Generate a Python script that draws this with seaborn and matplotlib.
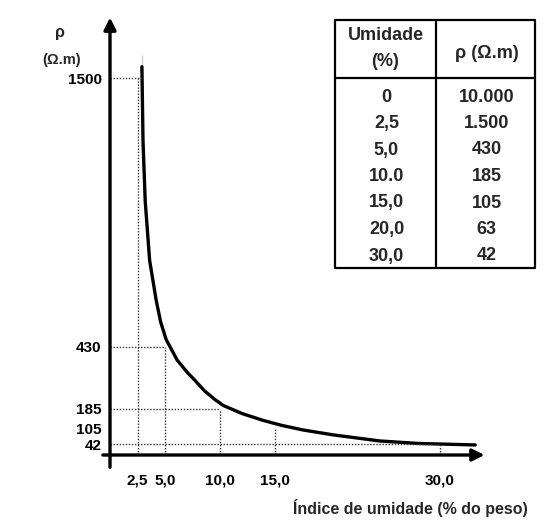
import numpy as np
import pandas as pd
import matplotlib
matplotlib.use("Agg")
import matplotlib.pyplot as plt
import seaborn as sns

# table values (from the printed table)
umidade = [0, 2.5, 5.0, 10.0, 15.0, 20.0, 30.0]
umidade_txt = ["0", "2,5", "5,0", "10.0", "15,0", "20,0", "30,0"]
rho = [10000, 1500, 430, 185, 105, 63, 42]
rho_txt = ["10.000", "1.500", "430", "185", "105", "63", "42"]

# curve as drawn in the picture
curve_x = [2.9, 2.9, 3.0, 3.2, 3.6, 4.2, 4.6, 5.1, 6.1, 7.0, 7.7, 8.6, 9.5, 10.3, 12.0, 13.9, 15.6, 17.5, 20.3, 24.5, 28.0, 33.2]
curve_y = [1590, 1500, 1250, 1010, 775, 615, 530, 460, 378, 330, 298, 255, 222, 197, 165, 138, 118, 100, 80, 56, 46, 40]

# guide lines on the chart
guide_x = [2.5, 5.0, 10.0, 15.0, 30.0]
guide_x_lbl = ["2,5", "5,0", "10,0", "15,0", "30,0"]
guide_y = [1500, 430, 185, 105, 42]
curve_at_guide = [1500, 430, 185, 105, 42]      # rho where vertical dotted line stops
hline_end = [2.9, 5.0, 10.0, None, 30.0]        # x where horizontal dotted line stops

sns.set_theme(style="white")
plt.rcParams['font.family'] = ['Liberation Sans', 'DejaVu Sans']

fig = plt.figure(figsize=(5.43, 5.30), dpi=100)
ax = fig.add_axes([0, 0, 1, 1])
ax.set_xlim(-10, 39.36)
ax.set_ylim(-298.4, 1810.6)
ax.patch.set_alpha(0)

df = pd.DataFrame({"x": curve_x, "y": curve_y})
sns.lineplot(data=df, x="x", y="y", sort=False, color="black", lw=2.4, ax=ax)

# dotted guides
for gx, gy in zip(guide_x, curve_at_guide):
    ax.plot([gx, gx], [0, gy], ls=(0, (1, 1.2)), color="#333333", lw=1.0)
for gy, xe in zip(guide_y, hline_end):
    if xe is not None:
        ax.plot([0, xe], [gy, gy], ls=(0, (1, 1.2)), color="#333333", lw=1.0)

# axes with arrows
for s in ax.spines.values():
    s.set_visible(False)
ax.spines['left'].set_position(('data', 0))
ax.spines['bottom'].set_position(('data', 0))
ax.annotate("", xy=(0, 1752), xytext=(0, -60),
            arrowprops=dict(arrowstyle="-|>", lw=2.4, color="black", mutation_scale=18))
ax.annotate("", xy=(34.3, 0), xytext=(-0.9, 0),
            arrowprops=dict(arrowstyle="-|>", lw=2.4, color="black", mutation_scale=18))

ax.set_xticks(guide_x, guide_x_lbl)
ax.set_yticks(guide_y, [str(v) for v in guide_y])
ax.tick_params(axis='x', direction='out', length=6, width=1, pad=7, labelsize=11, colors='black')
ax.tick_params(axis='y', direction='out', length=4, width=1, pad=2, labelsize=11, colors='black')
for t in ax.get_xticklabels() + ax.get_yticklabels():
    t.set_fontweight('bold')
ax.set_xlabel("")
ax.set_ylabel("")
ax.grid(False)

# overlay in pixel coordinates for labels and table
ov = fig.add_axes([0, 0, 1, 1])
ov.set_xlim(0, 543)
ov.set_ylim(530, 0)
ov.axis('off')
ov.patch.set_alpha(0)

ov.text(60, 33, "ρ", ha="center", va="center", fontsize=11.5, fontweight="bold")
ov.text(62, 60, "(Ω.m)", ha="center", va="center", fontsize=10.5, fontweight="bold")
ov.text(528, 508, "Índice de umidade (% do peso)", ha="right", va="center",
        fontsize=11.5, fontweight="bold")

# table
L, R, T, B, C, H = 335, 535, 20, 268, 436, 78
lw = 1.6
ov.plot([L, R, R, L, L], [T, T, B, B, T], color="black", lw=lw)
ov.plot([C, C], [T, B], color="black", lw=lw)
ov.plot([L, R], [H, H], color="black", lw=lw)
cl = (L + C) / 2
cr = (C + R) / 2
ov.text(cl, 36, "Umidade", ha="center", va="center", fontsize=13, fontweight="bold")
ov.text(cl, 62, "(%)", ha="center", va="center", fontsize=13, fontweight="bold")
ov.text(cr + 1, 54, "ρ (Ω.m)", ha="center", va="center", fontsize=13, fontweight="bold")
row0, step = 97, 26.5
for i, (u, r) in enumerate(zip(umidade_txt, rho_txt)):
    ov.text(cl + 1, row0 + i * step, u, ha="center", va="center", fontsize=13, fontweight="bold")
    ov.text(cr + 1, row0 + i * step, r, ha="center", va="center", fontsize=13, fontweight="bold")

fig.savefig("out.png", dpi=100, facecolor="white")
